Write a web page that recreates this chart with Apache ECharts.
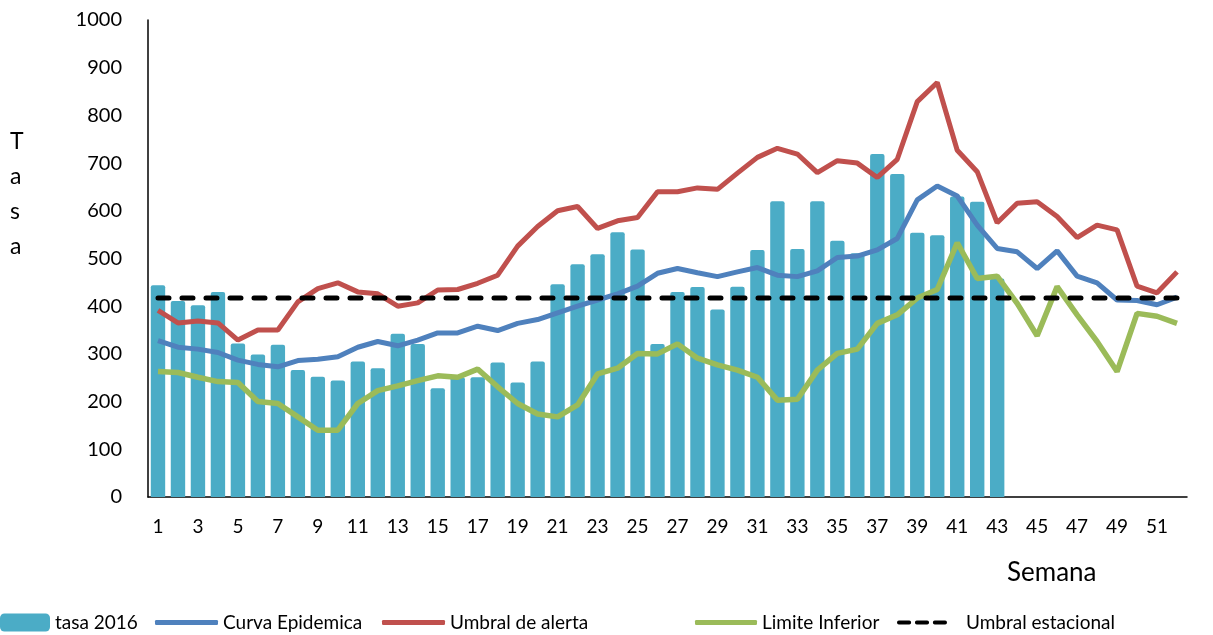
<!DOCTYPE html>
<html>
<head>
<meta charset="utf-8">
<script src="https://cdn.jsdelivr.net/npm/echarts@6/dist/echarts.min.js"></script>
<style>
  html, body { margin: 0; padding: 0; background: #fff; }
  #chart { width: 1213px; height: 635px; }
</style>
</head>
<body>
<div id="chart"></div>
<script>
// semanas epidemiologicas
const semanas = [];
for (let i = 1; i <= 52; i++) semanas.push(String(i));

// tasa 2016 (solo hasta la semana 43)
const tasa2016 = [444, 411, 402, 430, 322, 299, 319, 266, 252, 244, 284, 270, 342, 321, 228, 251, 251, 282, 240, 284,
  446, 488, 509, 555, 519, 321, 430, 440, 393, 441, 518, 620, 520, 620, 537, 511, 719, 677, 554, 549,
  630, 619, 458];

const curvaEpidemica = [328, 314, 310, 303, 287, 278, 273, 286, 289, 294, 314, 326, 317, 329, 344, 344, 358, 349, 364, 372,
  386, 400, 413, 426, 442, 469, 479, 470, 462, 472, 481, 465, 462, 474, 502, 505, 518, 542, 623, 652,
  631, 570, 521, 514, 479, 516, 463, 449, 413, 412, 403, 419];

const umbralAlerta = [391, 365, 369, 365, 329, 350, 350, 409, 437, 449, 430, 426, 400, 407, 434, 435, 448, 465, 526, 567,
  600, 609, 563, 579, 586, 640, 640, 648, 645, 679, 712, 731, 719, 680, 705, 700, 670, 708, 829, 869,
  727, 682, 575, 616, 619, 588, 544, 570, 560, 442, 428, 472];

const limiteInferior = [263, 261, 251, 242, 240, 200, 196, 168, 140, 140, 196, 223, 233, 244, 254, 251, 268, 231, 196, 174,
  168, 193, 258, 270, 301, 300, 321, 291, 277, 266, 251, 203, 205, 266, 301, 310, 364, 382, 417, 435,
  533, 458, 463, 406, 338, 441, 382, 326, 263, 385, 379, 364];

const umbralEstacional = [417, 417, 417, 417, 417, 417, 417, 417, 417, 417, 417, 417, 417, 417, 417, 417, 417, 417, 417, 417,
  417, 417, 417, 417, 417, 417, 417, 417, 417, 417, 417, 417, 417, 417, 417, 417, 417, 417, 417, 417,
  417, 417, 417, 417, 417, 417, 417, 417, 417, 417, 417, 417];

const yTicks = [0, 100, 200, 300, 400, 500, 600, 700, 800, 900, 1000];

const FONT = "Lato";
const chart = echarts.init(document.getElementById("chart"));

// una leyenda por serie para ubicar cada una como en el original
function leyenda(name, icon, left, width, height, textPad) {
  return {
    data: [{ name: name, icon: icon }],
    left: left,
    top: 613,
    itemWidth: width,
    itemHeight: height,
    itemGap: 0,
    padding: 0,
    textStyle: { fontFamily: FONT, fontSize: 19, color: "#000", padding: [0, 0, 0, textPad || 0] }
  };
}

const DASHES = "path://M2,0 h11 a2,2 0 0 1 0,4 h-11 a2,2 0 0 1 0,-4z M21,0 h11 a2,2 0 0 1 0,4 h-11 a2,2 0 0 1 0,-4z M40,0 h11 a2,2 0 0 1 0,4 h-11 a2,2 0 0 1 0,-4z";

const option = {
  animation: false,
  grid: { left: 148, right: 26, top: 20, bottom: 138 },
  legend: [
    leyenda("tasa 2016", "roundRect", 0, 50, 18),
    leyenda("Curva Epidemica", "roundRect", 155, 63, 5),
    leyenda("Umbral de alerta", "roundRect", 382, 63, 5),
    leyenda("Limite Inferior", "roundRect", 695, 62, 5),
    leyenda("Umbral estacional", DASHES, 897, 50, 5, 14)
  ],
  graphic: [
    {
      type: "text", left: 10, top: 124,
      style: { text: "T\na\ns\na", fontFamily: FONT, fontSize: 23, lineHeight: 35, fill: "#000" }
    },
    {
      type: "text", left: 1007, top: 560,
      style: { text: "Semana", fontFamily: FONT, fontSize: 26, fill: "#000" }
    }
  ],
  xAxis: {
    type: "category",
    data: semanas,
    axisLine: { lineStyle: { color: "#000", width: 1.5 } },
    axisTick: { show: false },
    axisLabel: { interval: 1, margin: 20, fontFamily: FONT, fontSize: 19, color: "#000" }
  },
  yAxis: {
    type: "value",
    min: yTicks[0],
    max: yTicks[yTicks.length - 1],
    interval: 100,
    splitLine: { show: false },
    axisLine: { show: true, lineStyle: { color: "#000", width: 1.5 } },
    axisTick: { show: false },
    axisLabel: { margin: 26, fontFamily: FONT, fontSize: 20, color: "#000", formatter: v => String(v) }
  },
  series: [
    {
      name: "tasa 2016",
      type: "bar",
      data: tasa2016,
      barCategoryGap: "28%",
      itemStyle: { color: "#4BACC6", borderRadius: [2, 2, 0, 0] }
    },
    {
      name: "Curva Epidemica",
      type: "line",
      data: curvaEpidemica,
      symbol: "none",
      lineStyle: { color: "#4F81BD", width: 5 },
      itemStyle: { color: "#4F81BD" }
    },
    {
      name: "Umbral de alerta",
      type: "line",
      data: umbralAlerta,
      symbol: "none",
      lineStyle: { color: "#C0504D", width: 5 },
      itemStyle: { color: "#C0504D" }
    },
    {
      name: "Limite Inferior",
      type: "line",
      data: limiteInferior,
      symbol: "none",
      lineStyle: { color: "#9BBB59", width: 5.5 },
      itemStyle: { color: "#9BBB59" }
    },
    {
      name: "Umbral estacional",
      type: "line",
      data: umbralEstacional,
      symbol: "none",
      lineStyle: { color: "#000", width: 5, type: [11, 13], cap: "round" },
      itemStyle: { color: "#000" }
    }
  ]
};

chart.setOption(option);
</script>
</body>
</html>
